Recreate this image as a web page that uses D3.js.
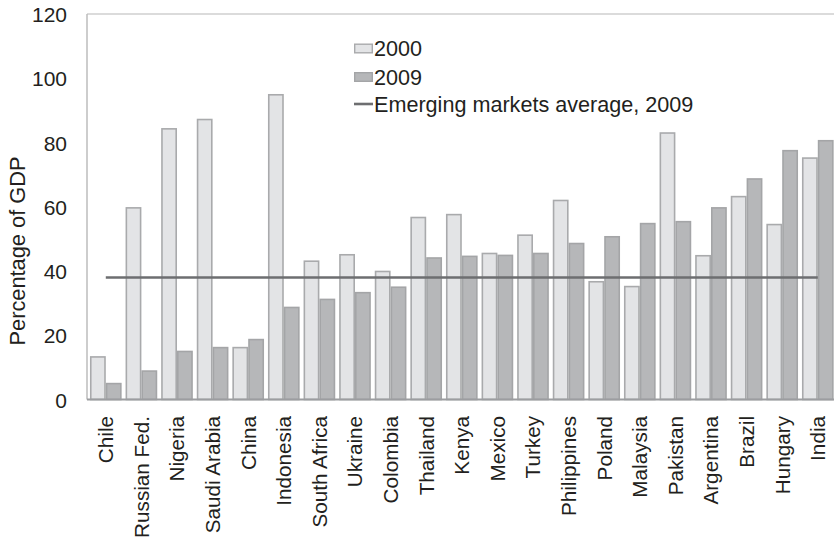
<!DOCTYPE html>
<html>
<head>
<meta charset="utf-8">
<script src="https://cdn.jsdelivr.net/npm/d3@7"></script>
<style>
  html, body { margin: 0; padding: 0; background: #fff; }
  svg { display: block; font-family: "Liberation Sans", Arial, sans-serif; }
</style>
</head>
<body>
<svg id="chart" width="834" height="546"></svg>
<script>
const categories = ["Chile","Russian Fed.","Nigeria","Saudi Arabia","China","Indonesia","South Africa","Ukraine","Colombia","Thailand","Kenya","Mexico","Turkey","Philippines","Poland","Malaysia","Pakistan","Argentina","Brazil","Hungary","India"];
const values2000 = [13.5, 59.9, 84.5, 87.4, 16.4, 95.1, 43.3, 45.3, 40.1, 56.9, 57.8, 45.7, 51.4, 62.2, 36.9, 35.4, 83.2, 45.0, 63.4, 54.7, 75.4];
const values2009 = [5.2, 9.1, 15.2, 16.4, 18.9, 28.9, 31.4, 33.5, 35.2, 44.3, 44.8, 45.1, 45.7, 48.8, 50.9, 55.0, 55.6, 59.9, 68.9, 77.7, 80.8];
const emergingAverage2009 = 38.0;
const seriesNames = ["2000", "2009"];
const legendLabels = ["2000", "2009", "Emerging markets average, 2009"];
const yTicks = [0, 20, 40, 60, 80, 100, 120];
const yTitle = "Percentage of GDP";

(function () {
const svg = d3.select("#chart");
const pLeft = 87, pRight = 834, pTop = 14, pBottom = 399.5;
const step = 35.6;

const x0 = d3.scaleBand().domain(categories)
  .range([88, 88 + categories.length * step])
  .paddingInner(0.11).paddingOuter(0.055);
const x1 = d3.scaleBand().domain(seriesNames).range([0, x0.bandwidth()]);
const y = d3.scaleLinear().domain([0, 120]).range([pBottom, pTop]);

const fills = { "2000": "#e3e4e6", "2009": "#b6b7b9" };
const strokes = { "2000": "#a9aaac", "2009": "#a4a5a7" };

// frame
svg.append("line").attr("x1", pLeft).attr("x2", pRight).attr("y1", pTop).attr("y2", pTop)
  .attr("stroke", "#cfcfcf").attr("stroke-width", 1.5);
svg.append("line").attr("x1", pLeft).attr("x2", pLeft).attr("y1", pTop).attr("y2", pBottom)
  .attr("stroke", "#bdbdbd").attr("stroke-width", 1.5);

// bars
const series = { "2000": values2000, "2009": values2009 };
const sw = 1.6;
seriesNames.forEach(s => {
  svg.append("g").selectAll("rect").data(categories).join("rect")
    .attr("x", (d) => x0(d) + x1(s) + sw / 2)
    .attr("width", x1.bandwidth() - sw)
    .attr("y", (d, i) => y(series[s][i]) + sw / 2)
    .attr("height", (d, i) => Math.max(0, y(0) - y(series[s][i]) - sw / 2))
    .attr("fill", fills[s])
    .attr("stroke", strokes[s])
    .attr("stroke-width", sw);
});

// baseline
svg.append("line").attr("x1", pLeft).attr("x2", pRight).attr("y1", y(0)).attr("y2", y(0))
  .attr("stroke", "#9c9da0").attr("stroke-width", 1.8);

// average line
const firstC = x0(categories[0]) + x0.bandwidth() / 2;
const lastC = x0(categories[categories.length - 1]) + x0.bandwidth() / 2;
svg.append("line").attr("x1", firstC).attr("x2", lastC)
  .attr("y1", y(emergingAverage2009)).attr("y2", y(emergingAverage2009))
  .attr("stroke", "#6d6e70").attr("stroke-width", 2.6);

// y axis labels
const yAxis = d3.axisLeft(y).tickValues(yTicks).tickSize(0).tickPadding(0);
const yg = svg.append("g").attr("transform", "translate(67,0)").call(yAxis);
yg.select(".domain").remove();
yg.selectAll("text").attr("font-size", 21).attr("fill", "#231f20")
  .attr("font-family", "Liberation Sans, Arial, sans-serif").attr("dy", "0.36em");

// y title
svg.append("text").attr("transform", "translate(17,251) rotate(-90)")
  .attr("text-anchor", "middle").attr("dy", "0.35em")
  .attr("font-size", 21.8).attr("fill", "#231f20").text(yTitle);

// x axis labels
const xAxis = d3.axisBottom(x0).tickSize(0).tickPadding(0);
const xg = svg.append("g").attr("transform", "translate(0,416)").call(xAxis);
xg.select(".domain").remove();
xg.selectAll("text")
  .attr("font-size", 20.7).attr("fill", "#231f20")
  .attr("font-family", "Liberation Sans, Arial, sans-serif")
  .attr("transform", "rotate(-90)")
  .attr("text-anchor", "end")
  .attr("x", 0).attr("y", 0).attr("dy", "0.36em");

// legend
const lg = svg.append("g");
const lx = 354, ly = [48.5, 77, 104];
lg.append("rect").attr("x", lx + 0.7).attr("y", ly[0] - 4.3).attr("width", 17.6).attr("height", 8.6)
  .attr("fill", fills["2000"]).attr("stroke", strokes["2000"]).attr("stroke-width", 1.4);
lg.append("rect").attr("x", lx + 0.7).attr("y", ly[1] - 4.3).attr("width", 17.6).attr("height", 8.6)
  .attr("fill", fills["2009"]).attr("stroke", strokes["2009"]).attr("stroke-width", 1.4);
lg.append("line").attr("x1", lx).attr("x2", lx + 19).attr("y1", ly[2]).attr("y2", ly[2])
  .attr("stroke", "#6d6e70").attr("stroke-width", 2.6);
legendLabels.forEach((t, i) => {
  lg.append("text").attr("x", lx + 20).attr("y", ly[i]).attr("dy", "0.36em")
    .attr("font-size", 21.6).attr("fill", "#231f20").text(t);
});
})();
</script>
</body>
</html>
